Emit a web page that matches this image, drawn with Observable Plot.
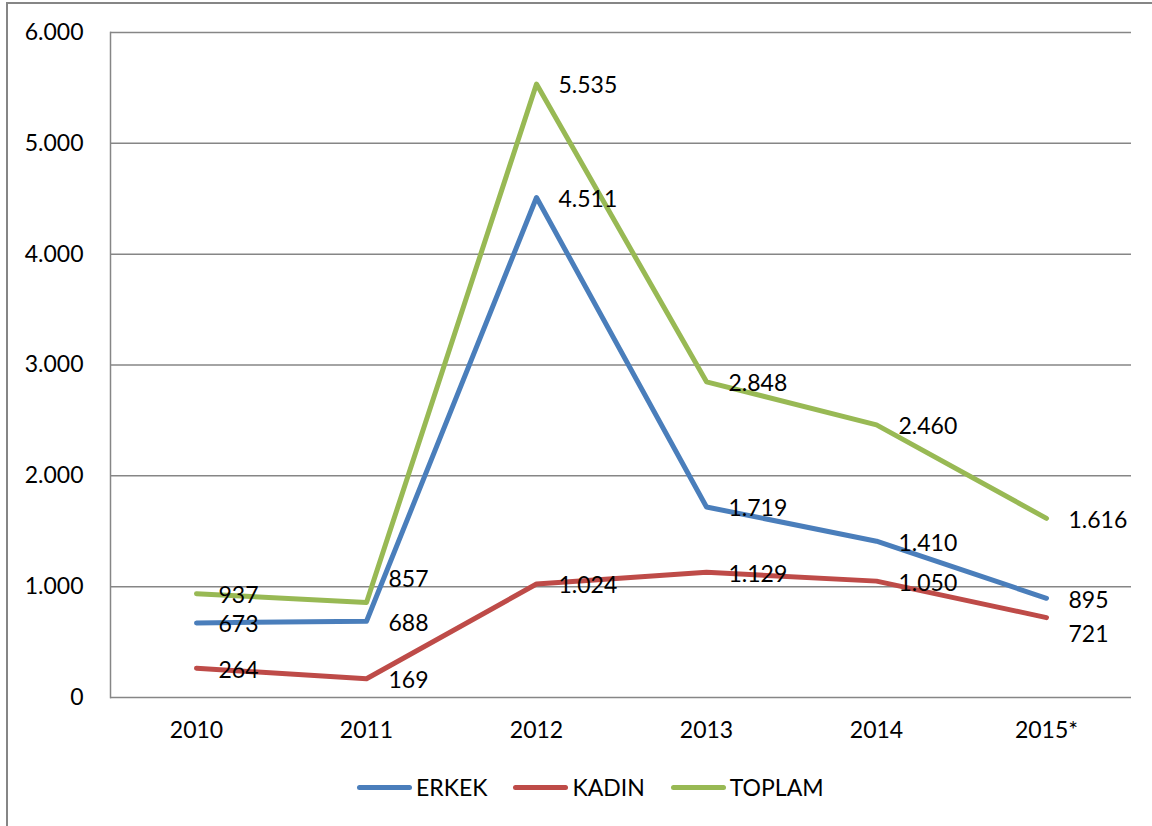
<!DOCTYPE html>
<html>
<head>
<meta charset="utf-8">
<script src="https://cdn.jsdelivr.net/npm/d3@7"></script>
<script src="https://cdn.jsdelivr.net/npm/@observablehq/plot@0.6"></script>
<style>
  html, body { margin: 0; padding: 0; background: #fff; overflow: hidden; }
  body { width: 1152px; height: 826px; position: relative; font-family: Lato, "Open Sans", sans-serif; }
  #frame { position: absolute; left: 6px; top: 2px; width: 1200px; height: 900px; border: 2px solid #868686; box-sizing: border-box; }
  #chart { position: absolute; left: 0; top: 0; }
  #legend { position: absolute; left: 357px; top: 773px; display: flex; align-items: center; font-size: 23px; color: #000; }
  .item { display: flex; align-items: center; margin-right: 26px; }
  .sw { width: 55px; height: 5px; border-radius: 3px; margin-right: 4px; }
</style>
</head>
<body>
<div id="frame"></div>
<div id="chart"></div>
<div id="legend"></div>
<script>
const years = ["2010", "2011", "2012", "2013", "2014", "2015*"];
const seriesNames = ["ERKEK", "KADIN", "TOPLAM"];
const erkek = [673, 688, 4511, 1719, 1410, 895];
const kadin = [264, 169, 1024, 1129, 1050, 721];
const toplam = [937, 857, 5535, 2848, 2460, 1616];
const yTicks = [0, 1000, 2000, 3000, 4000, 5000, 6000];
const colors = ["#4A7EBB", "#BE4B48", "#98B954"];

const seriesValues = [erkek, kadin, toplam];
const data = seriesNames.flatMap((s, i) => years.map((y, j) => ({series: s, year: y, value: seriesValues[i][j]})));

// manual label nudges (as in the original, to avoid overlaps)
const nudge = {"TOPLAM|2011": -25, "KADIN|2015*": 15};

const fmt = d3.formatLocale({decimal: ",", thousands: ".", grouping: [3], currency: ["", ""]}).format(",d");

const labelGroups = Array.from(d3.group(data, d => nudge[d.series + "|" + d.year] ?? 0));

const chart = Plot.plot({
  width: 1152,
  height: 760,
  marginLeft: 110,
  marginRight: 21,
  marginTop: 32,
  marginBottom: 63,
  style: {fontFamily: "Lato, 'Open Sans', sans-serif", fontSize: "23px", color: "#000", background: "transparent"},
  x: {type: "point", domain: years, padding: 0.5, label: null},
  y: {domain: [0, 6000], label: null},
  color: {domain: seriesNames, range: colors},
  marks: [
    Plot.ruleY(yTicks, {stroke: "#868686", strokeWidth: 1.5, strokeOpacity: 1}),
    Plot.frame({anchor: "left", stroke: "#868686", strokeWidth: 1.5, strokeOpacity: 1}),
    Plot.axisY({ticks: yTicks, tickSize: 0, tickPadding: 27, tickFormat: fmt, label: null, fontSize: 23}),
    Plot.axisX({tickSize: 0, tickPadding: 24, label: null, fontSize: 23}),
    Plot.line(data, {x: "year", y: "value", z: "series", stroke: "series", strokeWidth: 5, strokeLinejoin: "round", strokeLinecap: "round"}),
    ...labelGroups.map(([k, rows]) => Plot.text(rows, {
      x: "year", y: "value", text: d => fmt(d.value),
      textAnchor: "start", dx: 22, dy: 2 + k,
      fill: "#000", fontSize: 23
    }))
  ]
});
document.getElementById("chart").appendChild(chart);

const legend = document.getElementById("legend");
seriesNames.forEach((s, i) => {
  const item = document.createElement("div");
  item.className = "item";
  item.innerHTML = `<div class="sw" style="background:${colors[i]}"></div><span>${s}</span>`;
  legend.appendChild(item);
});
</script>
</body>
</html>
